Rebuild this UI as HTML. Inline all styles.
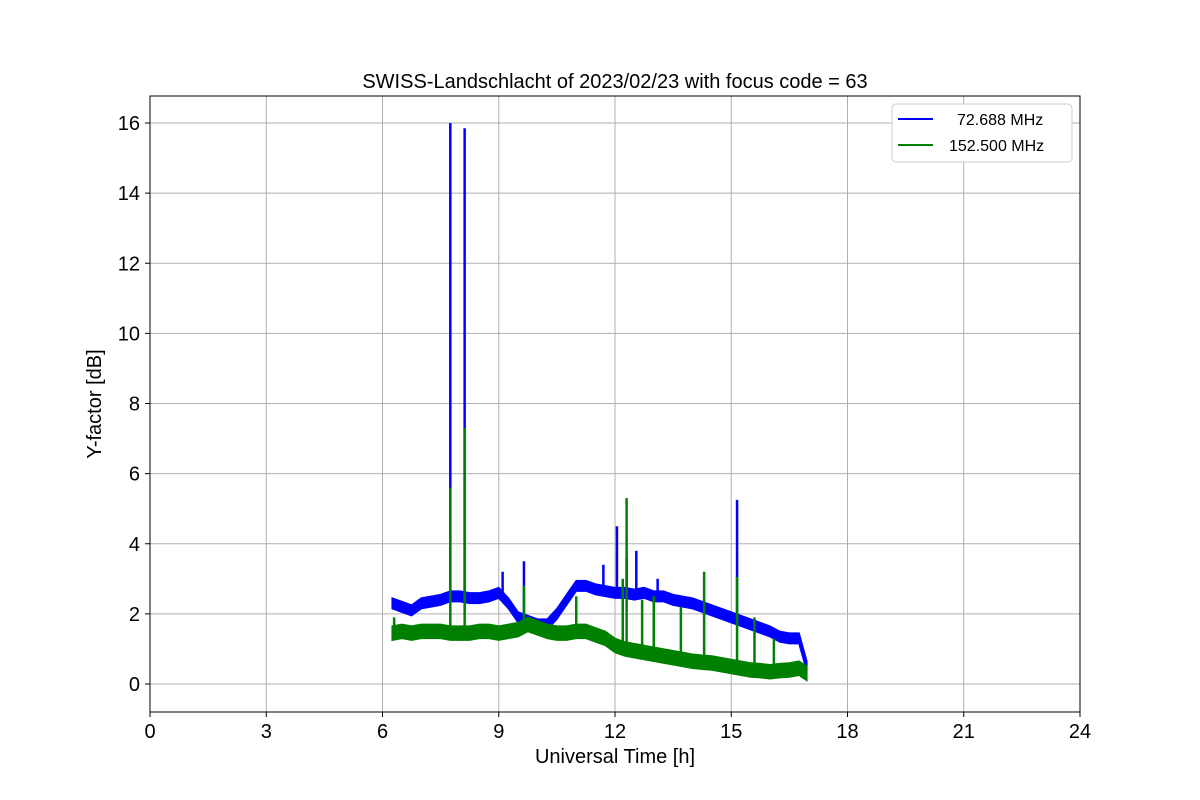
<!DOCTYPE html>
<html><head><meta charset="utf-8"><style>
body{margin:0;background:#fff}
svg{display:block;font-family:"Liberation Sans","DejaVu Sans",sans-serif}
</style></head><body>
<svg id="chart" width="1200" height="800"></svg>
<script>
const times=[6.25,6.5,6.75,7,7.25,7.5,7.75,8,8.25,8.5,8.75,9,9.25,9.5,9.75,10,10.25,10.5,10.75,11,11.25,11.5,11.75,12,12.25,12.5,12.75,13,13.25,13.5,13.75,14,14.25,14.5,14.75,15,15.25,15.5,15.75,16,16.25,16.5,16.75,16.95];
const blueMid=[2.3,2.2,2.1,2.3,2.35,2.4,2.5,2.5,2.45,2.45,2.5,2.6,2.3,1.9,1.8,1.7,1.7,2.0,2.4,2.8,2.8,2.7,2.65,2.6,2.6,2.55,2.6,2.5,2.5,2.4,2.35,2.3,2.2,2.1,2.0,1.9,1.8,1.7,1.6,1.5,1.35,1.3,1.3,0.5];
const greenMid=[1.45,1.5,1.45,1.5,1.5,1.5,1.45,1.45,1.45,1.5,1.5,1.45,1.5,1.55,1.7,1.6,1.5,1.45,1.45,1.5,1.5,1.4,1.3,1.1,1.0,0.95,0.9,0.85,0.8,0.75,0.7,0.65,0.62,0.6,0.55,0.5,0.45,0.4,0.38,0.35,0.38,0.4,0.45,0.3];
const blueSpikeT=[7.75,8.12,9.1,9.65,11.7,12.05,12.3,12.55,13.1,15.15];
const blueSpikeV=[16.0,15.85,3.2,3.5,3.4,4.5,3.6,3.8,3.0,5.25];
const greenSpikeT=[6.3,7.75,8.12,9.65,11.0,12.2,12.3,12.7,13.0,13.7,14.3,15.15,15.6,16.1];
const greenSpikeV=[1.9,5.6,7.3,2.8,2.5,3.0,5.3,2.4,2.5,2.2,3.2,3.05,1.9,1.3];
const xTicks=[0,3,6,9,12,15,18,21,24];
const yTicks=[0,2,4,6,8,10,12,14,16];
const L=150,R=1080,T=96,B=712;
const X=t=>L+(t/24)*(R-L);
const Y=v=>684-v*(684-123)/16;
const svg=document.getElementById('chart');
const NS='http://www.w3.org/2000/svg';
function mk(tag,attrs,parent){const e=document.createElementNS(NS,tag);for(const k in attrs)e.setAttribute(k,attrs[k]);(parent||svg).appendChild(e);return e;}
let e;
xTicks.forEach(t=>{e=mk('line',{x1:X(t),x2:X(t),y1:T,y2:B,stroke:'#b0b0b0','stroke-width':1});


e=mk('line',{x1:X(t),x2:X(t),y1:B,y2:B+5,stroke:'#000'});


e=mk('text',{x:X(t),y:B+26,'text-anchor':'middle','font-size':20});e.textContent=t;

});
yTicks.forEach(v=>{e=mk('line',{x1:L,x2:R,y1:Y(v),y2:Y(v),stroke:'#b0b0b0','stroke-width':1});


e=mk('line',{x1:L-5,x2:L,y1:Y(v),y2:Y(v),stroke:'#000'});


e=mk('text',{x:L-10,y:Y(v)+7,'text-anchor':'end','font-size':20});e.textContent=v;

});
function band(mid,hw,color,name){
 const up=times.map((t,i)=>X(t)+','+Y(mid[i]+hw));
 const lo=times.map((t,i)=>X(t)+','+Y(mid[i]-hw)).reverse();
 e=mk('polygon',{points:up.concat(lo).join(' '),fill:color,stroke:color,'stroke-width':1.5});
 
 
}
function spikes(ts,vs,mid,color,name){
 ts.forEach((t,i)=>{let k=0;while(k<times.length-1&&times[k+1]<=t)k++;
 e=mk('line',{x1:X(t),x2:X(t),y1:Y(vs[i]),y2:Y(mid[k]),stroke:color,'stroke-width':2.5});
 
 });
}
band(blueMid,0.15,'#0000ff','series-72mhz');
spikes(blueSpikeT,blueSpikeV,blueMid,'#0000ff','spike-72mhz');
band(greenMid,0.2,'#008000','series-152mhz');
spikes(greenSpikeT,greenSpikeV,greenMid,'#008000','spike-152mhz');
e=mk('rect',{x:L,y:T,width:R-L,height:B-T,fill:'none',stroke:'#000','stroke-width':1});


e=mk('text',{x:615,y:88,'text-anchor':'middle','font-size':20});e.textContent='SWISS-Landschlacht of 2023/02/23 with focus code = 63';


e=mk('text',{x:615,y:763,'text-anchor':'middle','font-size':20});e.textContent='Universal Time [h]';


e=mk('text',{x:101,y:404,'text-anchor':'middle','font-size':20,transform:'rotate(-90 101 404)'});e.textContent='Y-factor [dB]';


const lg=mk('g',{});


mk('rect',{x:892,y:104,width:180,height:58,rx:4,fill:'#fff',stroke:'#ccc'},lg);
[['72.688 MHz','#0000ff',119,957],['152.500 MHz','#008000',145,949]].forEach(([lab,c,y,tx])=>{
 mk('line',{x1:898,x2:933,y1:y,y2:y,stroke:c,'stroke-width':2},lg);
 e=mk('text',{x:tx,y:y+6,'text-anchor':'start','font-size':16},lg);e.textContent=lab;
 
 
});
</script>
</body></html>
